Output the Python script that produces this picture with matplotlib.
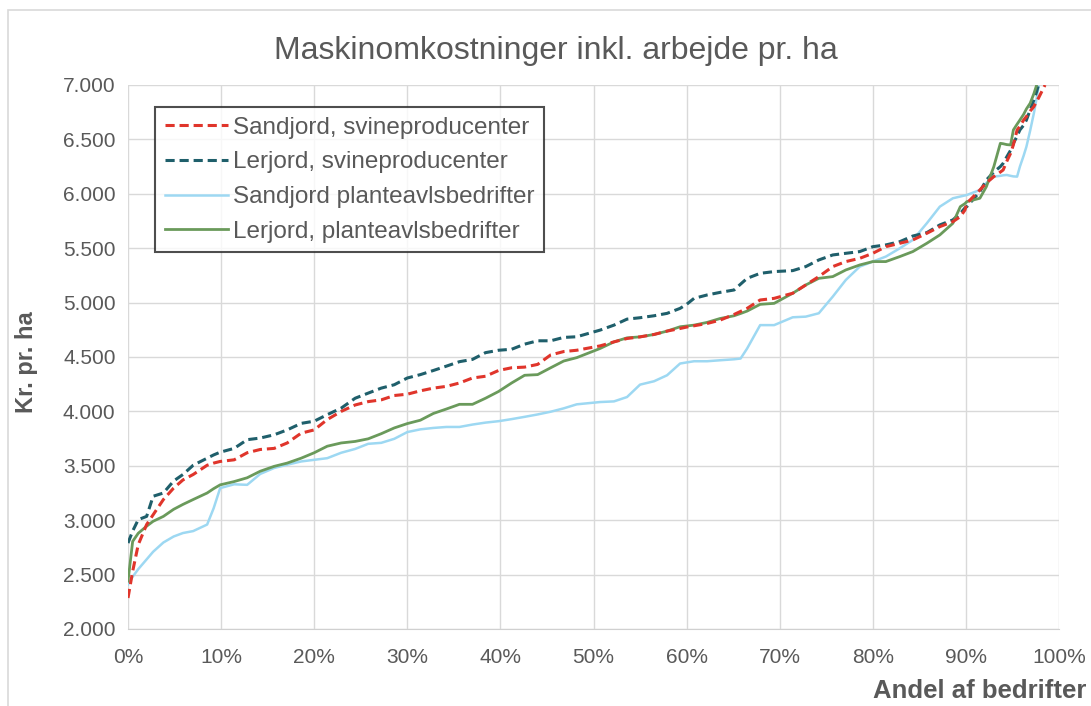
import matplotlib
matplotlib.use("Agg")
import matplotlib.pyplot as plt
import numpy as np
from matplotlib.ticker import FuncFormatter, MultipleLocator
from matplotlib.patches import Rectangle

nan = float("nan")

# Share of farms (percent)
andel = [0, 0.5, 1.1, 2.0, 2.7, 3.8, 4.9, 5.9, 7.0, 8.5, 9.2, 9.9, 11.4, 12.8, 14.2, 15.7, 17.1, 18.6, 20.0, 21.4, 22.9,
         24.4, 25.8, 27.2, 28.6, 30.0, 31.4, 32.8, 34.2, 35.6, 37.0, 38.4, 39.8, 41.2, 42.6, 44.0, 45.4, 46.8, 48.2,
         50.7, 52.2, 53.6, 55.0, 56.5, 57.9, 59.3, 60.0, 60.8, 62.2, 63.6, 65.1, 65.8, 66.5, 67.9, 69.4,
         71.4, 72.8, 74.2, 75.7, 77.1, 78.6, 80.0, 81.4, 82.9, 84.3, 85.8, 87.2, 88.6, 89.4, 89.9, 90.1, 91.5, 92.2,
         93.0, 93.7, 94.0, 94.4, 94.8, 95.1, 95.5, 95.8, 96.2, 96.5, 96.9, 97.3, 97.6, 97.8, 98.5]

sandjord_svin = [2285, 2530, 2775, 2960, 3050, 3190, 3295, 3370, 3420, 3505, 3525, 3540, 3555, 3620, 3650, 3660, 3710, 3800, 3830, 3925, 4000,
                 4059, 4090, 4106, 4146, 4158, 4189, 4214, 4230, 4261, 4307, 4323, 4376, 4401, 4407, 4432, 4519, 4550, 4562,
                 4602, 4639, 4670, 4685, 4707, 4738, 4762, 4775, 4787, 4808, 4839, 4891, 4919, 4947, 5024, 5039,
                 5086, 5162, 5239, 5331, 5377, 5407, 5453, 5514, 5545, 5576, 5637, 5698, 5744, 5790, 5851, 5913, 6035, 6100,
                 6158, 6200, 6219, 6300, 6372, 6450, 6587, 6620, 6678, 6710, 6760, 6801, 6850, 6880, 7000]

lerjord_svin = [2790, 2900, 3005, 3035, 3220, 3250, 3360, 3420, 3505, 3570, 3600, 3625, 3660, 3740, 3755, 3785, 3830, 3890, 3910, 3970, 4030,
                4121, 4168, 4214, 4245, 4307, 4338, 4376, 4416, 4457, 4478, 4540, 4562, 4571, 4618, 4649, 4649, 4680, 4686,
                4747, 4793, 4848, 4861, 4879, 4901, 4947, 4984, 5039, 5070, 5094, 5116, 5170, 5223, 5269, 5285,
                5294, 5331, 5392, 5438, 5453, 5469, 5514, 5530, 5560, 5612, 5643, 5714, 5760, 5820, 5870, 5882, 6020, 6127,
                6200, 6250, 6280, 6341, 6400, 6464, 6530, 6587, 6630, 6678, 6770, 6862, 6940, 7000, nan]

sandjord_plante = [2410, 2480, 2550, 2640, 2710, 2795, 2850, 2882, 2900, 2960, 3110, 3295, 3330, 3325, 3425, 3480, 3510, 3540, 3555, 3570, 3620,
                   3655, 3702, 3711, 3748, 3810, 3835, 3848, 3857, 3857, 3879, 3897, 3910, 3929, 3950, 3972, 3997, 4028, 4065,
                   4086, 4092, 4132, 4246, 4277, 4332, 4440, 4450, 4461, 4461, 4470, 4479, 4486, 4578, 4793, 4793,
                   4865, 4871, 4902, 5055, 5208, 5331, 5377, 5423, 5499, 5576, 5729, 5882, 5959, 5975, 5985, 5989, 6035, 6100,
                   6158, 6165, 6170, 6173, 6165, 6160, 6158, 6250, 6350, 6433, 6580, 6740, 6880, 6985, nan]

lerjord_plante = [2440, 2805, 2880, 2945, 2990, 3035, 3100, 3145, 3190, 3250, 3290, 3325, 3355, 3390, 3450, 3495, 3525, 3570, 3620, 3680, 3710,
                  3724, 3748, 3795, 3848, 3888, 3919, 3981, 4022, 4065, 4065, 4121, 4183, 4261, 4332, 4338, 4401, 4463, 4494,
                  4578, 4639, 4676, 4685, 4707, 4738, 4778, 4785, 4793, 4818, 4854, 4879, 4900, 4922, 4984, 4993,
                  5086, 5162, 5223, 5239, 5300, 5346, 5377, 5377, 5423, 5469, 5545, 5622, 5729, 5882, 5910, 5928, 5959, 6066,
                  6250, 6464, 6460, 6452, 6449, 6587, 6640, 6678, 6730, 6780, 6832, 6920, 7000, nan, nan]

serier = ["Sandjord, svineproducenter", "Lerjord, svineproducenter",
          "Sandjord planteavlsbedrifter", "Lerjord, planteavlsbedrifter"]
x_ticks = [0, 10, 20, 30, 40, 50, 60, 70, 80, 90, 100]

W, H = 1091, 706
fig = plt.figure(figsize=(W / 100, H / 100), dpi=100)
fig.patch.set_facecolor("white")
fig.patches.append(Rectangle((8 / W, -0.1), 1.2, 1 - 10 / H + 0.1, transform=fig.transFigure,
                             fill=False, edgecolor="#d9d9d9", linewidth=1.2))

ax = fig.add_axes([128 / W, (H - 629) / H, 931 / W, 544 / H])
grey = "#595959"
fam = ["Liberation Sans", "DejaVu Sans"]

ax.plot(andel, sandjord_svin, color="#e0352b", lw=2.2, dashes=(3, 1.6), label=serier[0], zorder=4)
ax.plot(andel, lerjord_svin, color="#1f5f6b", lw=2.2, dashes=(3, 1.6), label=serier[1], zorder=3)
ax.plot(andel, sandjord_plante, color="#9dd8f2", lw=1.8, label=serier[2], zorder=2)
ax.plot(andel, lerjord_plante, color="#6a9a5b", lw=2.0, label=serier[3], zorder=3)

ax.set_xlim(0, 100)
ax.set_ylim(2000, 7000)
ax.set_xticks(x_ticks)
ax.yaxis.set_major_locator(MultipleLocator(500))
ax.xaxis.set_major_formatter(FuncFormatter(lambda v, p: f"{int(round(v))}%"))
ax.yaxis.set_major_formatter(FuncFormatter(lambda v, p: f"{int(round(v)):,}".replace(",", ".")))
ax.grid(True, color="#d9d9d9", lw=1.0)
ax.set_axisbelow(True)
for s in ["top", "right", "left"]:
    ax.spines[s].set_visible(False)
ax.spines["bottom"].set_color("#d0d0d0")
ax.tick_params(length=0, labelsize=15, colors=grey)
ax.tick_params(axis="y", pad=9)
ax.tick_params(axis="x", pad=14)
for lab in ax.get_xticklabels() + ax.get_yticklabels():
    lab.set_family(fam)

fig.text(556 / W, 1 - 51 / H, "Maskinomkostninger inkl. arbejde pr. ha", ha="center", va="center",
         fontsize=23, color=grey, family=["Liberation Sans Narrow", "Liberation Sans", "DejaVu Sans"])
fig.text(26 / W, 1 - 362 / H, "Kr. pr. ha", rotation=90, ha="center", va="center",
         fontsize=17, fontweight="bold", color=grey, family=fam)
fig.text(1086 / W, 1 - 691 / H, "Andel af bedrifter", ha="right", va="center",
         fontsize=18.5, fontweight="bold", color=grey, family=fam)

leg = ax.legend(loc="upper left", bbox_to_anchor=((155 - 128) / 931, (629 - 107) / 544),
                borderaxespad=0, frameon=True, fancybox=False, handlelength=2.6, handletextpad=0.2,
                labelspacing=0.52, borderpad=0.4, prop={"family": fam, "size": 17.5})
leg.get_frame().set_edgecolor("#222222")
leg.get_frame().set_linewidth(1.5)
for t in leg.get_texts():
    t.set_color(grey)

fig.savefig("out.png", dpi=100, facecolor="white")
